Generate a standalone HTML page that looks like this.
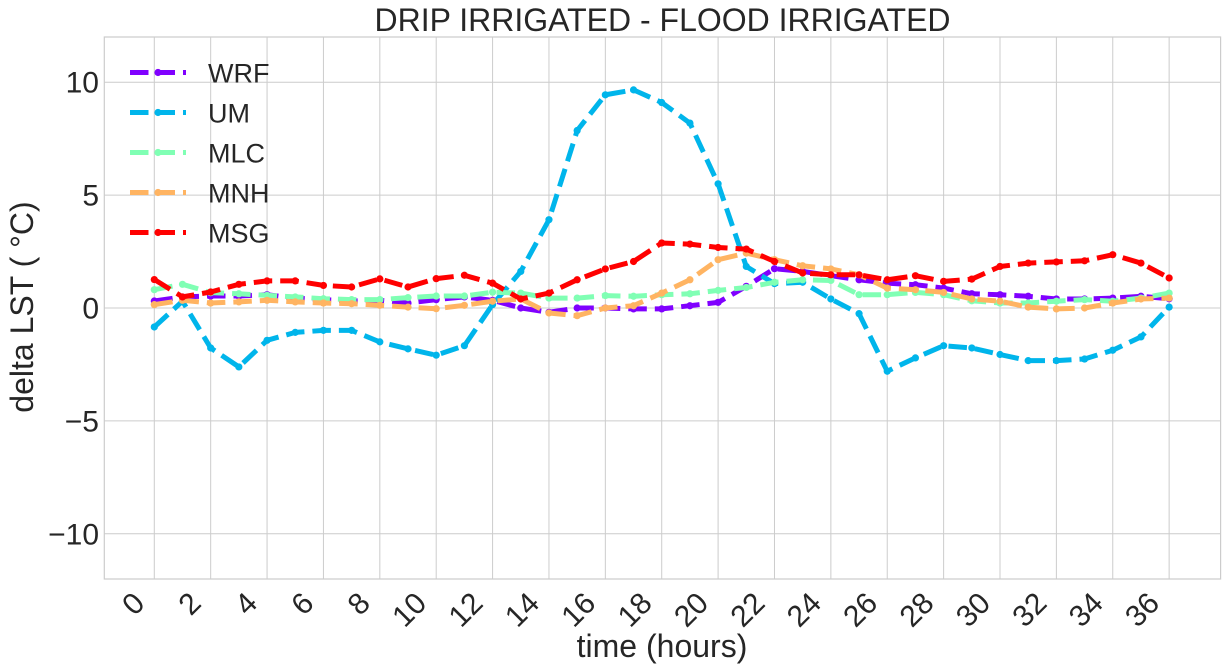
<!DOCTYPE html>
<html><head><meta charset="utf-8"><style>
html,body{margin:0;padding:0;background:#fff;}
svg{display:block;font-family:"Liberation Sans",Arial,sans-serif;}
</style></head><body>
<svg id="s" width="1226" height="671" viewBox="0 0 1226 671" xmlns="http://www.w3.org/2000/svg">
<rect x="0" y="0" width="1226" height="671" fill="#fff"/>
<g id="grid" stroke="#cccccc" stroke-width="1"></g>
<rect x="104.3" y="37" width="1116.3" height="542" fill="none" stroke="#cccccc" stroke-width="1.2"/>
<g id="series"></g>
<g id="legend"></g>
<g fill="#262626" font-size="30">
<text x="99" y="92.7" text-anchor="end">10</text>
<text x="99" y="205.6" text-anchor="end">5</text>
<text x="99" y="318.5" text-anchor="end">0</text>
<text x="99" y="431.4" text-anchor="end">−5</text>
<text x="99" y="544.3" text-anchor="end">−10</text>
</g>
<g id="xt" fill="#262626" font-size="30">
<text transform="translate(146.3,605) rotate(-45)" text-anchor="end">0</text>
<text transform="translate(202.7,605) rotate(-45)" text-anchor="end">2</text>
<text transform="translate(259.1,605) rotate(-45)" text-anchor="end">4</text>
<text transform="translate(315.4,605) rotate(-45)" text-anchor="end">6</text>
<text transform="translate(371.8,605) rotate(-45)" text-anchor="end">8</text>
<text transform="translate(428.2,605) rotate(-45)" text-anchor="end">10</text>
<text transform="translate(484.6,605) rotate(-45)" text-anchor="end">12</text>
<text transform="translate(541.0,605) rotate(-45)" text-anchor="end">14</text>
<text transform="translate(597.3,605) rotate(-45)" text-anchor="end">16</text>
<text transform="translate(653.7,605) rotate(-45)" text-anchor="end">18</text>
<text transform="translate(710.1,605) rotate(-45)" text-anchor="end">20</text>
<text transform="translate(766.5,605) rotate(-45)" text-anchor="end">22</text>
<text transform="translate(822.9,605) rotate(-45)" text-anchor="end">24</text>
<text transform="translate(879.2,605) rotate(-45)" text-anchor="end">26</text>
<text transform="translate(935.6,605) rotate(-45)" text-anchor="end">28</text>
<text transform="translate(992.0,605) rotate(-45)" text-anchor="end">30</text>
<text transform="translate(1048.4,605) rotate(-45)" text-anchor="end">32</text>
<text transform="translate(1104.8,605) rotate(-45)" text-anchor="end">34</text>
<text transform="translate(1161.1,605) rotate(-45)" text-anchor="end">36</text>
</g>
<text x="662.5" y="31" text-anchor="middle" font-size="32" fill="#262626">DRIP IRRIGATED - FLOOD IRRIGATED</text>
<text x="662" y="657" text-anchor="middle" font-size="32" fill="#262626">time (hours)</text>
<text transform="translate(33,307) rotate(-90)" text-anchor="middle" font-size="32" fill="#262626">delta LST ( °C)</text>
<g font-size="27" fill="#262626">
<text x="208" y="82.5">WRF</text>
<text x="208" y="122.5">UM</text>
<text x="208" y="162.5">MLC</text>
<text x="208" y="202.5">MNH</text>
<text x="208" y="242.5">MSG</text>
</g>
</svg>
<script>
(function(){
var NS="http://www.w3.org/2000/svg";
function X(t){return 154.3+28.19*t;}
function Y(v){return 308-22.58*v;}
var g=document.getElementById("grid");
for(var t=0;t<=36;t+=2){var l=document.createElementNS(NS,"line");l.setAttribute("x1",X(t));l.setAttribute("x2",X(t));l.setAttribute("y1",37);l.setAttribute("y2",579);g.appendChild(l);}
[-10,-5,0,5,10].forEach(function(v){var l=document.createElementNS(NS,"line");l.setAttribute("x1",104.3);l.setAttribute("x2",1220.6);l.setAttribute("y1",Y(v));l.setAttribute("y2",Y(v));g.appendChild(l);});
var S=[
["#8000ff",[0.31,0.49,0.53,0.53,0.59,0.44,0.37,0.31,0.34,0.22,0.37,0.49,0.34,0.0,-0.19,0.0,0.0,-0.04,-0.04,0.1,0.25,0.96,1.74,1.62,1.43,1.25,1.1,1.03,0.88,0.63,0.59,0.52,0.4,0.4,0.44,0.52,0.41]],
["#00b5eb",[-0.84,0.3,-1.77,-2.61,-1.43,-1.08,-0.99,-0.99,-1.5,-1.81,-2.09,-1.67,0.15,1.62,3.91,7.86,9.44,9.66,9.1,8.19,5.5,1.84,1.08,1.14,0.4,-0.25,-2.8,-2.21,-1.67,-1.77,-2.06,-2.33,-2.33,-2.26,-1.87,-1.28,0.04]],
["#80ffb4",[0.81,1.05,0.68,0.63,0.56,0.49,0.41,0.37,0.37,0.46,0.53,0.53,0.7,0.66,0.44,0.44,0.55,0.52,0.59,0.63,0.78,0.91,1.14,1.25,1.22,0.59,0.59,0.69,0.59,0.32,0.22,0.22,0.3,0.37,0.3,0.44,0.66]],
["#ffb462",[0.15,0.34,0.22,0.27,0.34,0.27,0.22,0.19,0.12,0.04,-0.03,0.12,0.3,0.4,-0.22,-0.34,0,0.1,0.66,1.25,2.14,2.43,2.14,1.87,1.73,1.47,0.88,0.81,0.69,0.4,0.3,0.04,-0.04,0,0.22,0.4,0.44]],
["#ff0000",[1.26,0.49,0.71,1.05,1.2,1.2,1.0,0.93,1.29,0.93,1.3,1.45,1.1,0.4,0.66,1.25,1.73,2.06,2.88,2.83,2.68,2.61,2.06,1.55,1.47,1.47,1.25,1.43,1.18,1.28,1.84,1.99,2.04,2.09,2.36,1.99,1.33]]
];
var sg=document.getElementById("series"),lg=document.getElementById("legend");
S.forEach(function(s,i){
 var pts=s[1].map(function(v,t){return X(t).toFixed(1)+","+Y(v).toFixed(1);}).join(" ");
 var p=document.createElementNS(NS,"polyline");
 p.setAttribute("points",pts);p.setAttribute("fill","none");p.setAttribute("stroke",s[0]);
 p.setAttribute("stroke-width","5");p.setAttribute("stroke-dasharray","18.5 8");p.setAttribute("stroke-linejoin","round");
 sg.appendChild(p);
 s[1].forEach(function(v,t){var c=document.createElementNS(NS,"circle");c.setAttribute("cx",X(t));c.setAttribute("cy",Y(v));c.setAttribute("r","3.6");c.setAttribute("fill",s[0]);sg.appendChild(c);});
 var y=72.5+40*i;
 var l=document.createElementNS(NS,"line");l.setAttribute("x1",130);l.setAttribute("x2",186);l.setAttribute("y1",y);l.setAttribute("y2",y);
 l.setAttribute("stroke",s[0]);l.setAttribute("stroke-width","5");l.setAttribute("stroke-dasharray","18.5 8");lg.appendChild(l);
 var c=document.createElementNS(NS,"circle");c.setAttribute("cx",158);c.setAttribute("cy",y);c.setAttribute("r","3.6");c.setAttribute("fill",s[0]);lg.appendChild(c);
});
})();
</script>
</body></html>
